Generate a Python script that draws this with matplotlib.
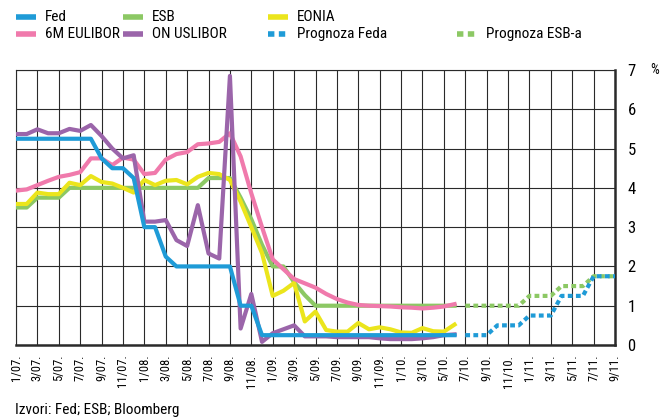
import numpy as np
import matplotlib
matplotlib.use('Agg')
import matplotlib.pyplot as plt
from matplotlib.lines import Line2D

plt.rcParams['font.family'] = ['Roboto Condensed', 'DejaVu Sans']

# mjeseci od 1/07 (0) do 9/11 (56)
tick_labels = ['1/07.', '3/07.', '5/07.', '7/07.', '9/07.', '11/07.',
               '1/08.', '3/08.', '5/08.', '7/08.', '9/08.', '11/08.',
               '1/09.', '3/09.', '5/09.', '7/09.', '9/09.', '11/09.',
               '1/10.', '3/10.', '5/10.', '7/10.', '9/10.', '11/10.',
               '1/11.', '3/11.', '5/11.', '7/11.', '9/11.']

# stvarni podaci: mjeseci 0..41
fed = [5.25, 5.25, 5.25, 5.25, 5.25, 5.25, 5.25, 5.25, 4.75, 4.5, 4.5, 4.25,
       3.0, 3.0, 2.25, 2.0, 2.0, 2.0, 2.0, 2.0, 2.0, 1.0, 1.0, 0.25,
       0.25, 0.25, 0.25, 0.25, 0.25, 0.25, 0.25, 0.25, 0.25, 0.25, 0.25, 0.25,
       0.25, 0.25, 0.25, 0.25, 0.25, 0.25]
esb = [3.5, 3.5, 3.75, 3.75, 3.75, 4.0, 4.0, 4.0, 4.0, 4.0, 4.0, 4.0,
       4.0, 4.0, 4.0, 4.0, 4.0, 4.0, 4.25, 4.25, 4.25, 3.75, 3.2, 2.55,
       2.0, 2.0, 1.6, 1.27, 1.0, 1.0, 1.0, 1.0, 1.0, 1.0, 1.0, 1.0,
       1.0, 1.0, 1.0, 1.0, 1.0, 1.0]
eonia = [3.59, 3.59, 3.88, 3.84, 3.84, 4.13, 4.07, 4.3, 4.15, 4.11, 4.0, 3.88,
         4.2, 4.07, 4.18, 4.2, 4.09, 4.28, 4.38, 4.35, 4.2, 3.65, 3.0, 2.34,
         1.25, 1.38, 1.58, 0.6, 0.85, 0.38, 0.34, 0.34, 0.56, 0.4, 0.45, 0.4,
         0.32, 0.31, 0.43, 0.35, 0.34, 0.52]
euribor = [3.93, 3.96, 4.07, 4.18, 4.28, 4.33, 4.4, 4.75, 4.75, 4.58, 4.77, 4.72,
           4.35, 4.38, 4.72, 4.86, 4.91, 5.11, 5.13, 5.17, 5.39, 4.8, 3.86, 3.0,
           2.18, 1.93, 1.68, 1.57, 1.46, 1.3, 1.17, 1.08, 1.02, 1.0, 0.99, 0.98,
           0.96, 0.95, 0.93, 0.95, 0.98, 1.04]
uslibor = [5.37, 5.37, 5.49, 5.39, 5.39, 5.5, 5.45, 5.6, 5.32, 5.0, 4.75, 4.83,
           3.14, 3.14, 3.18, 2.67, 2.52, 3.56, 2.33, 2.2, 6.85, 0.42, 1.3, 0.08,
           0.3, 0.4, 0.5, 0.22, 0.22, 0.22, 0.2, 0.2, 0.2, 0.2, 0.17, 0.15,
           0.15, 0.15, 0.17, 0.2, 0.25, 0.27]

# prognoze: mjeseci 42..56
prog_fed = [0.25, 0.25, 0.25, 0.5, 0.5, 0.5, 0.75, 0.75, 0.75,
            1.25, 1.25, 1.25, 1.75, 1.75, 1.75]
prog_esb = [1.0, 1.0, 1.0, 1.0, 1.0, 1.0, 1.25, 1.25, 1.25,
            1.5, 1.5, 1.5, 1.75, 1.75, 1.75]

c_fed = '#1f9bd7'
c_esb = '#8cc864'
c_eonia = '#ebe51c'
c_eur = '#f07aac'
c_us = '#9b65aa'

m = np.arange(len(fed))
mp = np.arange(42, 42 + len(prog_fed))

fig = plt.figure(figsize=(6.63, 4.18), dpi=100)
ax = fig.add_axes([16 / 663, 1 - 345 / 418, 599 / 663, 275 / 418])

lw = 3.0
dots = (0, (1.15, 0.8))
ax.plot(m, esb, color=c_esb, lw=lw, zorder=3)
ax.plot(m, eonia, color=c_eonia, lw=lw, zorder=4)
ax.plot(m, euribor, color=c_eur, lw=lw, zorder=5)
ax.plot(m, uslibor, color=c_us, lw=lw, zorder=6)
ax.plot(m, fed, color=c_fed, lw=lw, zorder=7)
ax.plot(mp, prog_esb, color=c_esb, lw=lw, ls=dots, dash_capstyle='butt', zorder=3)
ax.plot(mp, prog_fed, color=c_fed, lw=lw, ls=dots, dash_capstyle='butt', zorder=4)

ax.set_xlim(0, 56)
ax.set_ylim(0, 7)
ax.set_xticks(np.arange(0, 57, 2))
ax.set_xticklabels(tick_labels, rotation=90, fontsize=9, va='top')
ax.set_yticks(range(8))
ax.set_yticklabels([str(i) for i in range(8)], fontsize=12)
ax.yaxis.tick_right()
ax.tick_params(axis='both', length=0)
ax.tick_params(axis='y', pad=9)
ax.tick_params(axis='x', pad=7)
ax.grid(True, color='#2a2a2a', lw=0.8)
ax.set_axisbelow(True)
for s in ['left', 'top']:
    ax.spines[s].set_linewidth(0.8)
    ax.spines[s].set_color('#2a2a2a')
for s in ['bottom', 'right']:
    ax.spines[s].set_linewidth(1.8)
    ax.spines[s].set_color('#2a2a2a')

fig.text(655 / 663, 1 - 70 / 418, '%', fontsize=10, ha='center', va='center')
fig.text(15 / 663, 1 - 410 / 418, 'Izvori: Fed; ESB; Bloomberg', fontsize=11, va='center')

# legenda
items = [('Fed', c_fed, '-', 16, 17), ('ESB', c_esb, '-', 123, 17),
         ('EONIA', c_eonia, '-', 268, 17),
         ('6M EULIBOR', c_eur, '-', 16, 34), ('ON USLIBOR', c_us, '-', 123, 34),
         ('Prognoza Feda', c_fed, dots, 268, 34),
         ('Prognoza ESB-a', c_esb, dots, 457, 34)]
W, H = 663.0, 418.0
for name, col, ls, x0, y0 in items:
    fig.add_artist(Line2D([x0 / W, (x0 + 20) / W], [1 - y0 / H, 1 - y0 / H],
                          color=col, lw=4, ls=ls, dash_capstyle='butt',
                          solid_capstyle='butt'))
    fig.text((x0 + 29) / W, 1 - y0 / H, name, fontsize=11, va='center')

fig.savefig('out.png', dpi=100)
